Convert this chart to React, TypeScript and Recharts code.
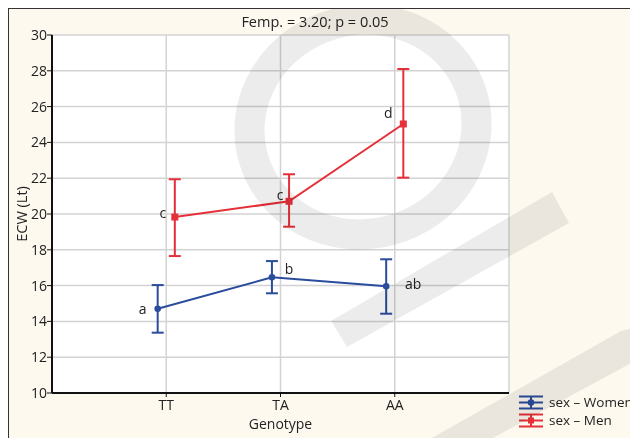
import { CartesianGrid, ComposedChart, ErrorBar, LabelList, Legend, Line, XAxis, YAxis } from "recharts";

const genotypes = ["TT", "TA", "AA"];

const womenMean = [14.71, 16.46, 15.96];
const womenUpper = [16.03, 17.37, 17.47];
const womenLower = [13.37, 15.57, 14.43];
const womenLetters = ["a", "b", "ab"];

const menMean = [19.83, 20.71, 25.03];
const menUpper = [21.94, 22.22, 28.1];
const menLower = [17.65, 19.29, 22.03];
const menLetters = ["c", "c", "d"];

const yTicks = [10, 12, 14, 16, 18, 20, 22, 24, 26, 28, 30];
const xTicks = [1, 2, 3];

const BLUE = "#2b4c9c";
const RED = "#e5303a";
const DODGE = 0.075;

// label offsets (px) relative to each point
const womenPlace = [[-15, 0], [17, -9], [27, -3]];
const menPlace = [[-12, -5], [-9, -7], [-15, -11]];

function buildRows(mean: number[], upper: number[], lower: number[], letters: string[], shift: number) {
  return mean.map((m, i) => ({
    x: i + 1 + shift,
    mean: m,
    err: [m - lower[i], upper[i] - m],
    letter: letters[i],
  }));
}

const womenRows = buildRows(womenMean, womenUpper, womenLower, womenLetters, -DODGE);
const menRows = buildRows(menMean, menUpper, menLower, menLetters, DODGE);

const letterRenderer = (place: number[][]) => (props: any) => {
  const { x, y, value, index } = props;
  const [dx, dy] = place[index] || [0, 0];
  return (
    <text x={x + dx} y={y + dy} textAnchor="middle" dominantBaseline="central" fontSize={14} fill="#222">
      {value}
    </text>
  );
};

const squareDot = (props: any) => {
  const { cx, cy, index } = props;
  return <rect key={`sq-${index}`} x={cx - 3.5} y={cy - 3.5} width={7} height={7} fill={RED} />;
};

function LegendIcon({ color, square }: { color: string; square?: boolean }) {
  return (
    <svg width={26} height={17} style={{ display: "block" }}>
      <line x1={1} x2={25} y1={2.5} y2={2.5} stroke={color} strokeWidth={2} />
      <line x1={1} x2={25} y1={8.5} y2={8.5} stroke={color} strokeWidth={2} />
      <line x1={1} x2={25} y1={14.5} y2={14.5} stroke={color} strokeWidth={2} />
      <line x1={13} x2={13} y1={2.5} y2={14.5} stroke={color} strokeWidth={2} />
      {square ? <rect x={10} y={5.5} width={6} height={6} fill={color} /> : <circle cx={13} cy={8.5} r={3.3} fill={color} />}
    </svg>
  );
}

function SexLegend() {
  const items = [
    { name: "sex \u2013 Women", color: BLUE, square: false },
    { name: "sex \u2013 Men", color: RED, square: true },
  ];
  return (
    <div>
      {items.map((it) => (
        <div key={it.name} style={{ display: "flex", alignItems: "center", height: 17.5 }}>
          <LegendIcon color={it.color} square={it.square} />
          <span style={{ marginLeft: 5, fontSize: 13.5, lineHeight: "15px", color: "#222", whiteSpace: "nowrap" }}>{it.name}</span>
        </div>
      ))}
    </div>
  );
}

export default function App() {
  return (
    <div
      style={{
        position: "relative",
        width: 630,
        height: 430,
        background: "#fdf9ef",
        borderTop: "1px solid #333",
        borderLeft: "1px solid #333",
        fontFamily: "'Open Sans', sans-serif",
        overflow: "hidden",
      }}
    >
      <div style={{ position: "absolute", left: 0, top: 3, width: 612, textAlign: "center", fontSize: 14.5, color: "#222" }}>
        Femp. = 3.20; p = 0.05
      </div>
      <ComposedChart width={629} height={429} margin={{ top: 26, right: 129, bottom: 0, left: 0 }}>
        <CartesianGrid xAxisId="bottom" yAxisId="left" fill="#fff" stroke="#d3d3d3" strokeWidth={1.5} />
        <XAxis
          xAxisId="bottom"
          type="number"
          dataKey="x"
          domain={[0, 4]}
          ticks={xTicks}
          tickFormatter={(v: number) => genotypes[v - 1] ?? ""}
          height={45}
          axisLine={{ stroke: "#111", strokeWidth: 2 }}
          tickLine={{ stroke: "#111" }}
          tickSize={4}
          tickMargin={3}
          tick={{ fill: "#222", fontSize: 14 }}
          label={{ value: "Genotype", position: "insideBottom", offset: 9, fill: "#222", fontSize: 14 }}
        />
        <XAxis xAxisId="top" orientation="top" type="number" domain={[0, 4]} ticks={xTicks} height={0} tick={false} tickLine={false} axisLine={{ stroke: "#111", strokeWidth: 2 }} />
        <YAxis
          yAxisId="left"
          type="number"
          domain={[10, 30]}
          ticks={yTicks}
          width={43}
          axisLine={{ stroke: "#111", strokeWidth: 2 }}
          tickLine={{ stroke: "#111" }}
          tickSize={5}
          tickMargin={0}
          tick={{ fill: "#222", fontSize: 14 }}
          label={{ value: "ECW (Lt)", angle: -90, position: "insideLeft", offset: 13, fill: "#222", fontSize: 14.5, style: { textAnchor: "middle" } }}
        />
        <YAxis yAxisId="right" orientation="right" type="number" domain={[10, 30]} ticks={yTicks} width={0} mirror tick={false} tickSize={4} tickLine={{ stroke: "#111" }} axisLine={{ stroke: "#111", strokeWidth: 1.5 }} />
        <Line
          xAxisId="bottom"
          yAxisId="left"
          data={womenRows}
          dataKey="mean"
          name="sex - Women"
          stroke={BLUE}
          strokeWidth={2}
          dot={{ r: 3.3, fill: BLUE, stroke: BLUE, strokeWidth: 0 }}
          isAnimationActive={false}
        >
          <ErrorBar dataKey="err" direction="y" width={6} stroke={BLUE} strokeWidth={2} />
          <LabelList dataKey="letter" content={letterRenderer(womenPlace)} />
        </Line>
        <Line
          xAxisId="bottom"
          yAxisId="left"
          data={menRows}
          dataKey="mean"
          name="sex - Men"
          stroke={RED}
          strokeWidth={2}
          dot={squareDot}
          isAnimationActive={false}
        >
          <ErrorBar dataKey="err" direction="y" width={6} stroke={RED} strokeWidth={2} />
          <LabelList dataKey="letter" content={letterRenderer(menPlace)} />
        </Line>
        <Legend
          layout="horizontal"
          verticalAlign="middle"
          align="center"
          content={<SexLegend />}
          wrapperStyle={{ position: "absolute", left: 509, top: 385, width: 120 }}
        />
      </ComposedChart>
      {/* faint watermark */}
      <svg width={630} height={430} style={{ position: "absolute", left: 0, top: 0, pointerEvents: "none", mixBlendMode: "multiply" }}>
        <ellipse cx={354} cy={118} rx={114} ry={107} fill="none" stroke="#ececec" strokeWidth={30} transform="rotate(-15 354 118)" />
        <polygon points="322,312 338,338 560,214 543,183" fill="#ececec" />
        <polygon points="421,430 482,430 630,350 630,318 612,322" fill="#ececec" />
      </svg>
    </div>
  );
}
